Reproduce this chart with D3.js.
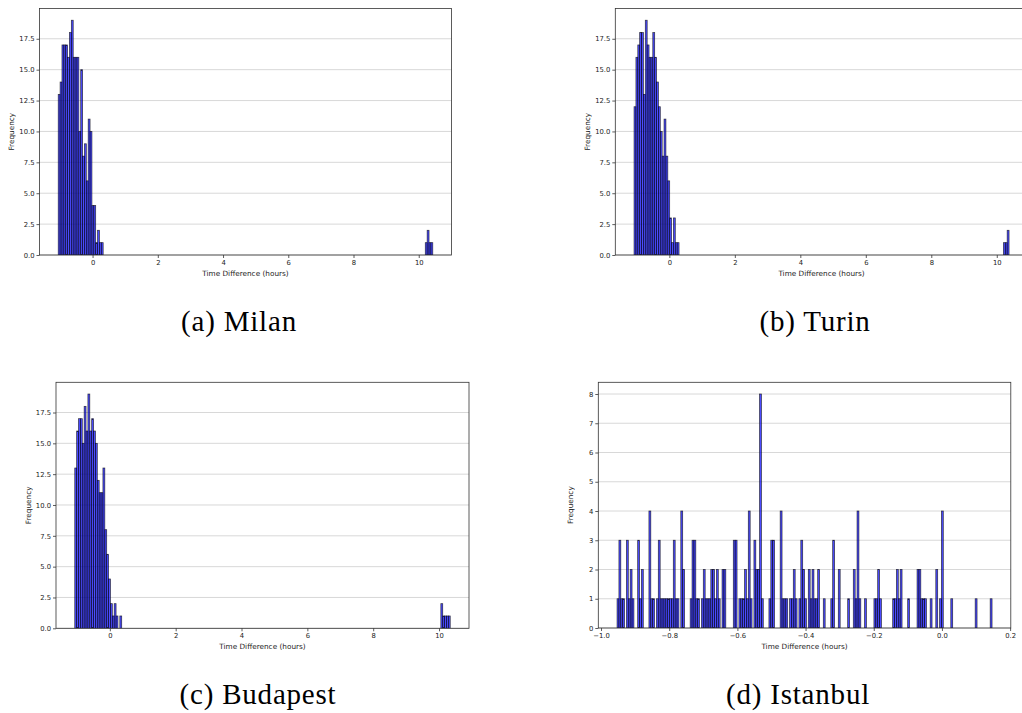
<!DOCTYPE html>
<html>
<head>
<meta charset="utf-8">
<script src="https://cdn.jsdelivr.net/npm/d3@7"></script>
<style>
  html, body { margin: 0; padding: 0; background: #fff; }
  svg { display: block; }
</style>
</head>
<body>
<svg id="chart" width="1022" height="713"></svg>
<script>
// ---------------- DATA ----------------
const binCount = 200;

const milanRange = [-1.053, 10.43];
const milanHead = [13, 14, 17, 17, 17, 16, 18, 19, 16, 16, 16, 10, 15, 8, 9, 6, 11, 10, 4, 4, 1, 2, 1, 1];
const milanTail = [1, 2, 1, 1];

const turinRange = [-1.078, 10.375];
const turinHead = [12, 16, 17, 18, 18, 13, 19, 17, 16, 16, 18, 16, 14, 12, 10, 8, 11, 8, 6, 3, 1, 3, 1, 1];
const turinTail = [1, 1, 2];

const budapestRange = [-1.065, 10.34];
const budapestHead = [13, 16, 17, 17, 15, 18, 16, 19, 16, 17, 16, 15, 12, 11, 11, 13, 8, 6, 4, 2, 1, 2, 1, 0, 1];
const budapestTail = [2, 1, 1, 1, 1];

const istanbulRange = [-0.953, 0.147];
const istanbulCounts = [
  1, 3, 1, 1, 0, 3, 1, 2, 1, 0,   0, 3, 1, 2, 0, 0, 0, 4, 1, 1,
  0, 1, 3, 1, 1, 1, 1, 1, 1, 1,   3, 1, 1, 0, 4, 2, 0, 0, 0, 1,
  3, 3, 1, 1, 0, 1, 2, 1, 1, 1,   2, 2, 1, 2, 1, 0, 2, 2, 0, 0,
  0, 0, 3, 3, 0, 1, 1, 1, 2, 1,   4, 1, 0, 3, 2, 2, 8, 1, 0, 0,
  0, 1, 3, 3, 0, 0, 0, 4, 1, 1,   1, 0, 1, 1, 2, 1, 0, 1, 3, 2,
  1, 0, 2, 1, 2, 1, 1, 2, 0, 0,   1, 0, 0, 0, 1, 3, 0, 0, 2, 0,
  0, 0, 0, 1, 0, 0, 2, 1, 4, 1,   0, 0, 1, 0, 0, 0, 0, 1, 1, 2,
  1, 0, 0, 0, 0, 0, 0, 1, 1, 2,   1, 2, 0, 0, 0, 1, 0, 0, 0, 0,
  2, 2, 1, 1, 1, 0, 0, 1, 0, 0,   2, 0, 1, 4, 0, 0, 0, 0, 1, 0,
  0, 0, 0, 0, 0, 0, 0, 0, 0, 0,   0, 1, 0, 0, 0, 0, 0, 0, 0, 1
];

const wideXTicks = [0, 2, 4, 6, 8, 10];
const wideYTicks = [0, 2.5, 5, 7.5, 10, 12.5, 15, 17.5];
const istanbulXTicks = [-1.0, -0.8, -0.6, -0.4, -0.2, 0.0, 0.2];
const istanbulYTicks = [0, 1, 2, 3, 4, 5, 6, 7, 8];

const captions = ["(a) Milan", "(b) Turin", "(c) Budapest", "(d) Istanbul"];
const xLabel = "Time Difference (hours)";
const yLabel = "Frequency";

// ---------------- HELPERS ----------------
function fullCounts(head, tail) {
  const arr = new Array(binCount).fill(0);
  head.forEach((v, i) => { arr[i] = v; });
  tail.forEach((v, i) => { arr[binCount - tail.length + i] = v; });
  return arr;
}

const minus = s => s.replace("-", "\u2212");

const panels = [
  { range: milanRange, counts: fullCounts(milanHead, milanTail), xt: wideXTicks, yt: wideYTicks,
    xfmt: d3.format("d"), yfmt: d3.format(".1f"),
    box: { left: 39.5, width: 412, top: 8.5, bottom: 255 }, cap: captions[0], capX: 239, capY: 331 },
  { range: turinRange, counts: fullCounts(turinHead, turinTail), xt: wideXTicks, yt: wideYTicks,
    xfmt: d3.format("d"), yfmt: d3.format(".1f"),
    box: { left: 615.3, width: 412.5, top: 8.5, bottom: 255 }, cap: captions[1], capX: 815, capY: 331 },
  { range: budapestRange, counts: fullCounts(budapestHead, budapestTail), xt: wideXTicks, yt: wideYTicks,
    xfmt: d3.format("d"), yfmt: d3.format(".1f"),
    box: { left: 56, width: 413, top: 382.3, bottom: 628.3 }, cap: captions[2], capX: 258, capY: 704 },
  { range: istanbulRange, counts: istanbulCounts, xt: istanbulXTicks, yt: istanbulYTicks,
    xfmt: d3.format(".1f"), yfmt: d3.format("d"),
    box: { left: 598.3, width: 412.5, top: 382.3, bottom: 628 }, cap: captions[3], capX: 798, capY: 704 }
];

const svg = d3.select("#chart");
const tickFont = "DejaVu Sans, sans-serif";

panels.forEach((p, pi) => {
  const [lo, hi] = p.range;
  const span = hi - lo;
  const bw = span / binCount;
  const maxC = d3.max(p.counts);
  const b = p.box;

  const x = d3.scaleLinear()
    .domain([lo - 0.05 * span, hi + 0.05 * span])
    .range([b.left, b.left + b.width]);
  const y = d3.scaleLinear()
    .domain([0, maxC * 1.05])
    .range([b.bottom, b.top]);

  const g = svg.append("g");
  const clipId = "clip" + pi;
  g.append("clipPath").attr("id", clipId)
    .append("rect")
    .attr("x", b.left).attr("y", b.top)
    .attr("width", b.width).attr("height", b.bottom - b.top);

  // grid
  g.append("g").selectAll("line")
    .data(p.yt)
    .join("line")
    .attr("x1", b.left).attr("x2", b.left + b.width)
    .attr("y1", d => y(d)).attr("y2", d => y(d))
    .attr("stroke", "#d4d4d4")
    .attr("stroke-width", 0.9);

  // bars
  const bins = p.counts.map((c, i) => ({ i, c })).filter(d => d.c > 0);
  g.append("g").attr("clip-path", `url(#${clipId})`)
    .selectAll("rect")
    .data(bins)
    .join("rect")
    .attr("x", d => x(lo + d.i * bw))
    .attr("width", d => x(lo + (d.i + 1) * bw) - x(lo + d.i * bw))
    .attr("y", d => y(d.c))
    .attr("height", d => y(0) - y(d.c))
    .attr("fill", "rgb(0,0,255)")
    .attr("fill-opacity", 0.7)
    .attr("stroke", "#000")
    .attr("stroke-opacity", 0.7)
    .attr("stroke-width", 0.75);

  // axes
  const xAxis = d3.axisBottom(x).tickValues(p.xt).tickSize(3).tickPadding(2)
    .tickFormat(d => minus(p.xfmt(d)));
  const yAxis = d3.axisLeft(y).tickValues(p.yt).tickSize(3).tickPadding(2)
    .tickFormat(d => p.yfmt(d));

  const gx = g.append("g").attr("transform", `translate(0,${b.bottom})`).call(xAxis);
  const gy = g.append("g").attr("transform", `translate(${b.left},0)`).call(yAxis);
  [gx, gy].forEach(ax => {
    ax.select(".domain").remove();
    ax.selectAll("line").attr("stroke", "#333").attr("stroke-width", 0.8);
    ax.selectAll("text").attr("font-family", tickFont).attr("font-size", 6.8).attr("fill", "#222");
  });

  // frame
  g.append("rect")
    .attr("x", b.left).attr("y", b.top)
    .attr("width", b.width).attr("height", b.bottom - b.top)
    .attr("fill", "none").attr("stroke", "#333").attr("stroke-width", 0.8);

  // axis labels
  g.append("text")
    .attr("x", b.left + b.width / 2)
    .attr("y", b.bottom + 20.5)
    .attr("text-anchor", "middle")
    .attr("font-family", tickFont).attr("font-size", 7.3).attr("fill", "#222")
    .text(xLabel);
  g.append("text")
    .attr("transform", `translate(${b.left - 25.5},${(b.top + b.bottom) / 2}) rotate(-90)`)
    .attr("text-anchor", "middle")
    .attr("font-family", tickFont).attr("font-size", 7.3).attr("fill", "#222")
    .text(yLabel);

  // caption
  svg.append("text")
    .attr("x", p.capX).attr("y", p.capY)
    .attr("text-anchor", "middle")
    .attr("font-family", "Liberation Serif, DejaVu Serif, serif")
    .attr("font-size", 29)
    .attr("letter-spacing", 0.8)
    .attr("fill", "#000")
    .text(p.cap);
});
</script>
</body>
</html>
